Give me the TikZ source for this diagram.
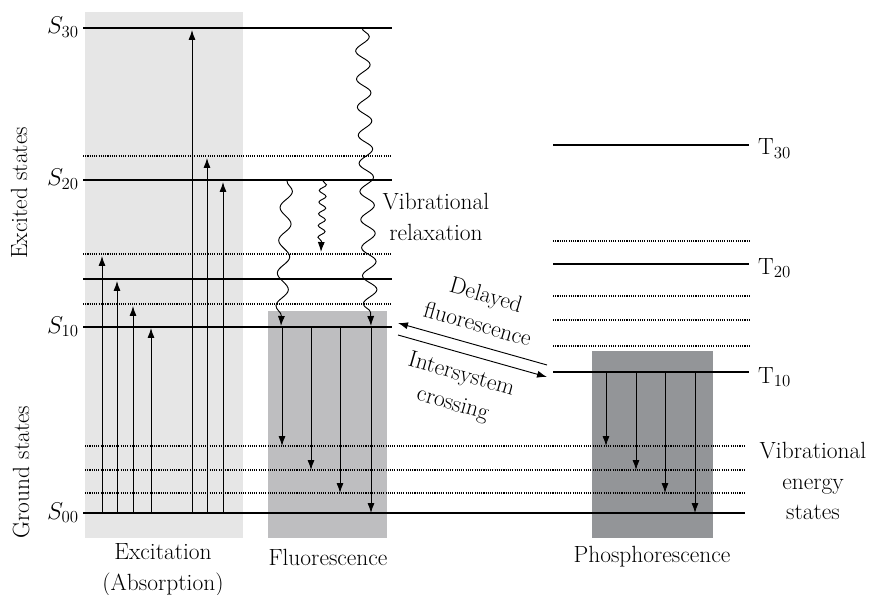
\documentclass[tikz,border=0pt]{standalone}
\usetikzlibrary{arrows.meta,decorations.pathmorphing}
\definecolor{absbox}{RGB}{230,230,230}
\definecolor{flubox}{RGB}{190,190,192}
\definecolor{phobox}{RGB}{147,149,152}
\begin{document}
\begin{tikzpicture}[
    x=0.03cm, y=-0.03cm,
    font=\fontsize{20}{26}\selectfont,
    level/.style={line width=0.9pt},
    sublevel/.style={densely dotted, line width=0.9pt},
    arr/.style={-{Latex[length=8.5pt,width=6pt]}, line width=0.8pt},
    wave/.style={arr, decorate, decoration={snake, post length=8pt}},
    lbl/.style={inner sep=0pt}
]
    \useasboundingbox (0,0) rectangle (871,595);

    % Shaded regions
    \fill[absbox] (85,12) rectangle (243,538);
    \fill[flubox] (268,311) rectangle (387,538);
    \fill[phobox] (592,351) rectangle (713,538);

    % Singlet levels
    \foreach \y in {28,180,279,327} {
        \draw[level] (83,\y) -- (392,\y);
    }
    \foreach \y in {156,254,304} {
        \draw[sublevel] (83,\y) -- (392,\y);
    }
    % Ground vibrational levels
    \draw[level] (83,513) -- (745,513);
    \foreach \y in {446,470,493} {
        \draw[sublevel] (85,\y) -- (745,\y);
    }
    % Triplet levels
    \foreach \y in {145,264,372} {
        \draw[level] (553,\y) -- (749,\y);
    }
    \foreach \y in {241,296,320,346} {
        \draw[sublevel] (553,\y) -- (749,\y);
    }

    % Level labels
    \node[lbl, anchor=base east] (S30) at (79,34) {$S_{30}$};
    \node[lbl, anchor=base east] (S20) at (79,186) {$S_{20}$};
    \node[lbl, anchor=base east] (S10) at (79,333) {$S_{10}$};
    \node[lbl, anchor=base east] (S00) at (79,519) {$S_{00}$};
    \node[lbl, anchor=base west] (T30) at (758,155) {T$_{30}$};
    \node[lbl, anchor=base west] (T20) at (758,274) {T$_{20}$};
    \node[lbl, anchor=base west] (T10) at (758,383) {T$_{10}$};

    % Absorption
    \foreach \x/\top [count=\i] in {102/256,117/281,133/306,151/328,192/30,207/158,223/182} {
        \coordinate (ab\i) at (\x,513);
        \coordinate (ae\i) at (\x,\top);
        \draw[arr] (ab\i) -- (ae\i);
    }

    % Fluorescence
    \foreach \x/\bot [count=\i] in {282/446,311/470,340/493,371/513} {
        \coordinate (fb\i) at (\x,327);
        \coordinate (fe\i) at (\x,\bot);
        \draw[arr] (fb\i) -- (fe\i);
    }

    % Phosphorescence
    \foreach \x/\bot [count=\i] in {606/446,636/470,665/493,695/513} {
        \coordinate (pb\i) at (\x,372);
        \coordinate (pe\i) at (\x,\bot);
        \draw[arr] (pb\i) -- (pe\i);
    }

    % Vibrational relaxation
    \coordinate (vr1a) at (287,181);
    \coordinate (vr1b) at (281,326);
    \coordinate (vr2a) at (323,181);
    \coordinate (vr2b) at (321,252);
    \coordinate (vr3a) at (362,28);
    \coordinate (vr3b) at (371,326);
    \draw[wave, decoration={amplitude=5pt, segment length=28pt}] (vr1a) -- (vr1b);
    \draw[wave, decoration={amplitude=3pt, segment length=10pt}] (vr2a) -- (vr2b);
    \draw[wave, decoration={amplitude=6pt, segment length=24pt}] (vr3a) -- (vr3b);

    % Intersystem crossing and delayed fluorescence
    \coordinate (df1) at (547,365);
    \coordinate (df2) at (398,323);
    \coordinate (isc1) at (398,335);
    \coordinate (isc2) at (547,377);
    \draw[arr] (df1) -- (df2);
    \draw[arr] (isc1) -- (isc2);

    % Annotations
    \node[align=center, rotate=-16] (dflbl) at (482,309) {Delayed\\fluorescence};
    \node[align=center, rotate=-16] (isclbl) at (457,390) {Intersystem\\crossing};
    \node[align=center] (vrlbl) at (436,217) {Vibrational\\relaxation};
    \node[align=center] (velbl) at (813,481) {Vibrational\\energy\\states};
    \node[rotate=90] (exlbl) at (19,193) {Excited states};
    \node[rotate=90] (grlbl) at (21,472) {Ground states};
    \node[align=center] (abslbl) at (163,570) {Excitation\\(Absorption)};
    \node (flulbl) at (328,557) {Fluorescence};
    \node (pholbl) at (652,557) {Phosphorescence};
\end{tikzpicture}
\end{document}
